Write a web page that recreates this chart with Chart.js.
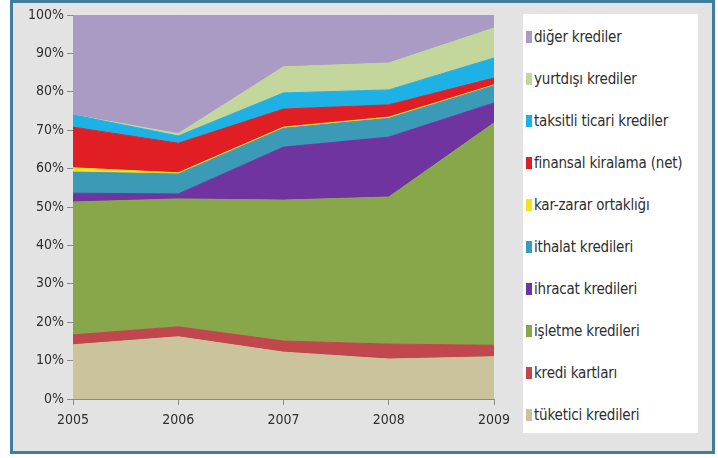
<!DOCTYPE html>
<html>
<head>
<meta charset="utf-8">
<script src="https://cdn.jsdelivr.net/npm/chart.js@4/dist/chart.umd.min.js"></script>
<style>
  body { margin: 0; background: #fff; }
  #frame {
    position: absolute; left: 10px; top: 0; width: 699px; height: 448px;
    border: 3px solid #3f7e9d; background: #e3e3e3;
  }
  #wrap { position: absolute; left: 0; top: 0; width: 718px; height: 458px; }
  #legend {
    position: absolute; left: 523px; top: 14px; width: 175px; height: 419px;
    background: #fff; font-family: "DejaVu Sans Condensed", "Liberation Sans Narrow", sans-serif;
    font-size: 15px; color: #2e2e2e;
  }
  .item { position: absolute; left: 3px; height: 18px; line-height: 18px; white-space: nowrap; letter-spacing: -0.2px; }
  .item span { display: inline-block; width: 6px; height: 12px; margin-right: 2px; vertical-align: -1px; }
</style>
</head>
<body>
<div id="frame"></div>
<div id="wrap"><canvas id="myChart" width="718" height="458"></canvas></div>
<div id="legend"></div>
<script>
// years on the x axis
var years = ["2005", "2006", "2007", "2008", "2009"];
var yTicks = [0, 10, 20, 30, 40, 50, 60, 70, 80, 90, 100];

// shares in %, bottom of the stack first
var tuketici = [14.1, 16.2, 12.2, 10.4, 11.0];
var krediKartlari = [2.6, 2.6, 2.9, 3.9, 3.0];
var isletme = [34.6, 33.3, 36.7, 38.3, 57.9];
var ihracat = [2.3, 1.3, 13.8, 15.6, 5.2];
var ithalat = [5.5, 5.2, 4.9, 4.9, 4.5];
var karZarar = [1.1, 0.3, 0.3, 0.3, 0.2];
var finansal = [10.6, 7.7, 4.7, 3.2, 1.8];
var taksitli = [3.2, 1.9, 4.2, 3.9, 5.2];
var yurtdisi = [0.0, 0.6, 6.8, 7.0, 7.8];
var diger = [26.0, 30.9, 13.5, 12.5, 3.4];

var series = [
  { label: "tüketici kredileri", data: tuketici, color: "#cbc39b" },
  { label: "kredi kartları", data: krediKartlari, color: "#c0474b" },
  { label: "işletme kredileri", data: isletme, color: "#88a74b" },
  { label: "ihracat kredileri", data: ihracat, color: "#7034a0" },
  { label: "ithalat kredileri", data: ithalat, color: "#3b9ab6" },
  { label: "kar-zarar ortaklığı", data: karZarar, color: "#f4e31c" },
  { label: "finansal kiralama (net)", data: finansal, color: "#e21e25" },
  { label: "taksitli ticari krediler", data: taksitli, color: "#1eb1e6" },
  { label: "yurtdışı krediler", data: yurtdisi, color: "#c3d69c" },
  { label: "diğer krediler", data: diger, color: "#aa9bc5" },
];

var font = { family: "'DejaVu Sans Condensed', 'Liberation Sans Narrow', sans-serif", size: 14 };

var ctx = document.getElementById("myChart").getContext("2d");
var myChart = new Chart(ctx, {
  type: "line",
  data: {
    labels: years,
    datasets: series.map(function (s, i) {
      return {
        label: s.label,
        data: s.data,
        backgroundColor: s.color,
        borderColor: s.color,
        borderWidth: 1,
        pointRadius: 0,
        tension: 0,
        fill: i === 0 ? "origin" : "-1",
      };
    }),
  },
  options: {
    responsive: false,
    animation: false,
    layout: { padding: { left: 14, right: 224, top: 15, bottom: 10 } },
    plugins: { legend: { display: false }, tooltip: { enabled: false } },
    scales: {
      x: {
        offset: false,
        grid: { drawOnChartArea: false, tickLength: 6, color: "#8a8a8a" },
        border: { color: "#8a8a8a" },
        ticks: { font: font, color: "#2e2e2e", padding: 7, maxRotation: 0 },
        afterFit: function (s) { s.height = 49; },
      },
      y: {
        stacked: true,
        min: 0,
        max: 100,
        afterBuildTicks: function (s) { s.ticks = yTicks.map(function (v) { return { value: v }; }); },
        grid: { drawOnChartArea: false, tickLength: 6, color: "#8a8a8a" },
        border: { color: "#8a8a8a" },
        ticks: { font: font, color: "#2e2e2e", padding: 3, callback: function (v) { return v + "%"; } },
        afterFit: function (s) { s.width = 59; },
      },
    },
  },
});

// legend, top of the stack first
var legend = document.getElementById("legend");
series.slice().reverse().forEach(function (s, i) {
  var d = document.createElement("div");
  d.className = "item";
  d.style.top = (14 + i * 42) + "px";
  d.innerHTML = '<span style="background:' + s.color + '"></span>' + s.label;
  legend.appendChild(d);
});
</script>
</body>
</html>
